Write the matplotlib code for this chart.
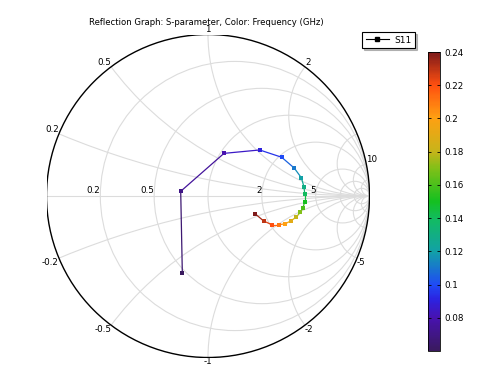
import numpy as np
import matplotlib
matplotlib.use("Agg")
import matplotlib.pyplot as plt
from matplotlib.patches import Circle
from matplotlib.collections import LineCollection
from matplotlib.colors import LinearSegmentedColormap, Normalize
from matplotlib.lines import Line2D

# frequency (GHz) and reflection coefficient
freq = [0.06, 0.07, 0.08, 0.09, 0.10, 0.11, 0.12, 0.13, 0.14, 0.15,
        0.16, 0.17, 0.18, 0.19, 0.20, 0.21, 0.22, 0.23, 0.24]
s11_re = [-0.159, -0.169, 0.099, 0.320, 0.456, 0.534, 0.578, 0.594, 0.599, 0.599,
          0.588, 0.572, 0.545, 0.514, 0.479, 0.438, 0.396, 0.345, 0.293]
s11_im = [-0.475, 0.029, 0.264, 0.285, 0.240, 0.173, 0.113, 0.058, 0.014, -0.035,
          -0.074, -0.101, -0.132, -0.153, -0.172, -0.178, -0.178, -0.155, -0.111]

grid_r = [0.2, 0.5, 1, 2, 5, 10, 20]
grid_x = [0.2, 0.5, 1, 2, 5, 10, 20]
r_labels = [0.2, 0.5, 2, 5]
x_labels = [0.2, 0.5, 1, 2, 10, -0.2, -0.5, -1, -2, -5]
cbar_ticks = [0.08, 0.1, 0.12, 0.14, 0.16, 0.18, 0.2, 0.22, 0.24]

rainbow = LinearSegmentedColormap.from_list("comsol_rainbow", [
    (0.00, "#3a1a5e"), (0.11, "#4812b0"), (0.17, "#2c22e0"), (0.22, "#1f4af5"),
    (0.33, "#12a0a8"), (0.44, "#12bb62"), (0.50, "#14c020"), (0.61, "#80c018"),
    (0.67, "#c8b41a"), (0.78, "#ffa012"), (0.89, "#ff5010"), (1.00, "#7e1a1a")])
norm = Normalize(vmin=0.06, vmax=0.24)

fig = plt.figure(figsize=(4.79, 3.66), dpi=100)
ax = fig.add_axes([46.5 / 479, (366 - 357.5) / 366, 323 / 479, 323 / 366])
ax.set_xlim(-1, 1)
ax.set_ylim(-1, 1)
ax.set_aspect("equal")
ax.axis("off")

gc = "#dcdcdc"
unit = Circle((0, 0), 1, fill=False, ec="black", lw=1.0, zorder=3)
ax.add_patch(unit)
clip = Circle((0, 0), 1, transform=ax.transData)

for r in grid_r:
    c = Circle((r / (1 + r), 0), 1 / (1 + r), fill=False, ec=gc, lw=0.8, zorder=1)
    ax.add_patch(c)
for x in grid_x:
    for s in (1, -1):
        c = Circle((1, s / x), 1 / x, fill=False, ec=gc, lw=0.8, zorder=1)
        ax.add_patch(c)
        c.set_clip_path(clip)
ax.plot([-1, 1], [0, 0], color=gc, lw=0.8, zorder=1)

fs = 6.3
for r in r_labels:
    ax.annotate(f"{r:g}", ((r - 1) / (r + 1), 0), xytext=(0, 0.5), textcoords="offset points",
                ha="right", va="bottom", fontsize=fs)
for x in x_labels:
    g = (1j * x - 1) / (1j * x + 1)
    ha = "center" if abs(g.real) < 0.01 else ("left" if g.real > 0 else "right")
    va = "bottom" if x > 0 else "top"
    ax.annotate(f"{x:g}", (g.real, g.imag), xytext=(0, 0), textcoords="offset points",
                ha=ha, va=va, fontsize=fs)

# data: coloured segments and markers
pts = np.column_stack([s11_re, s11_im])
segs = np.stack([pts[:-1], pts[1:]], axis=1)
fv = np.array(freq)
lc = LineCollection(segs, cmap=rainbow, norm=norm, lw=0.9, zorder=4)
lc.set_array((fv[:-1] + fv[1:]) / 2)
ax.add_collection(lc)
ax.scatter(s11_re, s11_im, c=freq, cmap=rainbow, norm=norm, marker="s", s=9, zorder=5, lw=0)

fig.text(206 / 479, 1 - 22.5 / 366, "Reflection Graph: S-parameter, Color: Frequency (GHz)",
         ha="center", va="center", fontsize=6.1)

handle = Line2D([], [], color="black", lw=0.8, marker="s", ms=2.5)
leg = fig.legend([handle], ["S11"], loc="upper left", bbox_to_anchor=(362 / 479, 1 - 32 / 366),
                 fontsize=6.5, frameon=True, fancybox=False,
                 shadow={"ox": 1.5, "oy": -1.5, "shade": 0.5},
                 handlelength=2.6, borderpad=0.4, handletextpad=0.6, borderaxespad=0)
leg.get_frame().set_edgecolor("black")
leg.get_frame().set_linewidth(0.8)

cax = fig.add_axes([428 / 479, (366 - 351) / 366, 12 / 479, 299 / 366])
sm = plt.cm.ScalarMappable(cmap=rainbow, norm=norm)
cb = fig.colorbar(sm, cax=cax, ticks=cbar_ticks)
cb.ax.set_yticklabels([f"{t:g}" for t in cbar_ticks])
cb.ax.tick_params(labelsize=6.3, direction="in", length=2, width=0.6, left=True, right=True)
cb.outline.set_linewidth(0.6)

fig.savefig("out.png", dpi=100)
